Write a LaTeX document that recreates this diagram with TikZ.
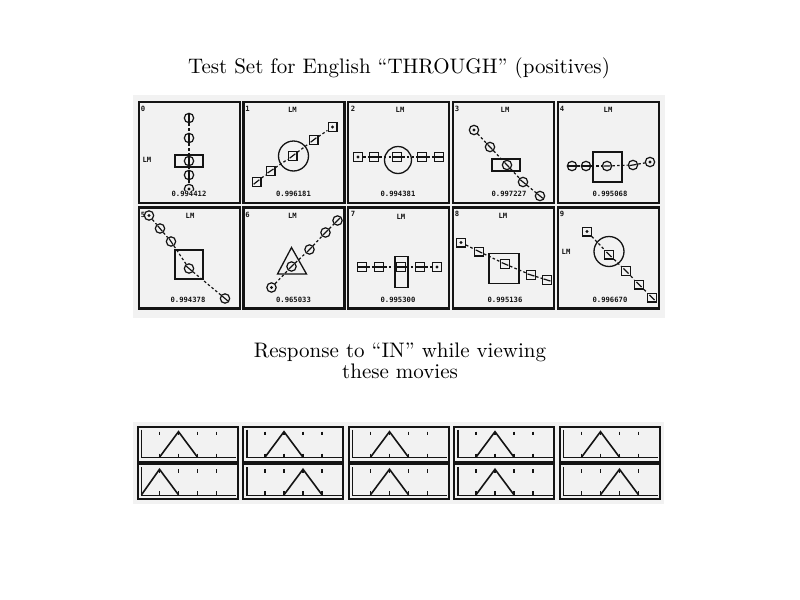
\documentclass[tikz,border=0pt]{standalone}
\usepackage{fontspec}
\newfontfamily\pixfont{DejaVu Sans Mono}
\usetikzlibrary{calc}
\definecolor{scanbg}{gray}{0.95}
\definecolor{ink}{gray}{0.08}
\tikzset{
  frame/.style={draw=ink, line width=1.2pt},
  cont/.style={draw=ink, line width=0.65pt, inner sep=0pt},
  circ/.style={circle, draw=ink, line width=0.6pt, minimum size=4.7pt, inner sep=0pt},
  sqr/.style={rectangle, draw=ink, line width=0.6pt, minimum size=4.4pt, inner sep=0pt},
  link/.style={draw=ink, line width=0.6pt, dash pattern=on 1.3pt off 1.1pt},
  mk/.style={draw=ink, line width=0.6pt},
  lbl/.style={inner sep=0pt, text=ink, font=\pixfont\bfseries\fontsize{3.6}{3.8}\selectfont},
  val/.style={inner sep=0.3pt, fill=scanbg, text=ink, font=\pixfont\bfseries\fontsize{3.6}{4}\selectfont},
  heading/.style={inner sep=0pt, font=\fontsize{10.5}{12}\selectfont},
  pframe/.style={draw=ink, line width=1pt},
  axisline/.style={draw=ink, line width=0.7pt},
  tickmark/.style={draw=ink, line width=0.8pt},
  tent/.style={draw=ink, line width=0.8pt, line join=miter}
}
\newcommand\objmark[2]{\draw[mk] ($(#1)!1.8pt!(#2)$) -- ($(#1)!-1.8pt!(#2)$);}
\newcommand\objdot[1]{\fill[ink] (#1) circle[radius=1.6];}
\newcommand\respplot[5]{%
  \begin{scope}[shift={(#1,#2)}]
    \draw[pframe] (0,0) rectangle (100,35);
    \draw[axisline] (4,3) -- (4,31) -- (98.5,31);
    \foreach \t in {22,41,60,79} {
      \draw[tickmark] (\t,5) -- (\t,8.5);
      \draw[tickmark] (\t,27) -- (\t,30.5);
    }
    \draw[tent] (#3,30.5) -- (#4,5) -- (#5,30.5);
  \end{scope}}
\begin{document}
\begin{tikzpicture}[x=0.5pt,y=-0.5pt]
\useasboundingbox (0,0) rectangle (800,600);
\fill[white] (0,0) rectangle (800,600);

\node[heading] (title) at (399,68) {Test Set for English ``THROUGH'' (positives)};
\node[heading] (resp1) at (400,352) {Response to ``IN'' while viewing};
\node[heading] (resp2) at (400,371) {these movies};

\fill[scanbg] (133,95) rectangle (665,318);
\fill[scanbg] (133,422) rectangle (664,504);

% ---------- panel 0
\begin{scope}[shift={(139,102)}]
  \draw[frame] (0,0) rectangle (101,101);
  \node[lbl] (d0) at (4,7) {0};
  \node[lbl] (lm0) at (8,58) {LM};
  \node[cont, rectangle, minimum width=14pt, minimum height=6pt] (c0) at (50,59) {};
  \node[circ] (o0a) at (50,16) {};
  \node[circ] (o0b) at (50,36) {};
  \node[circ] (o0c) at (50,59) {};
  \node[circ] (o0d) at (50,73) {};
  \node[circ] (o0e) at (50,87) {};
  \draw[link] (o0a) -- (o0b); \draw[link] (o0b) -- (o0c);
  \draw[link] (o0c) -- (o0d); \draw[link] (o0d) -- (o0e);
  \objmark{o0a}{o0b} \objmark{o0b}{o0c} \objmark{o0c}{o0d} \objmark{o0d}{o0e}
  \objdot{o0e}
  \node[val] (v0) at (50,92) {0.994412};
\end{scope}

% ---------- panel 1
\begin{scope}[shift={(243.5,102)}]
  \draw[frame] (0,0) rectangle (101,101);
  \node[lbl] (d1) at (4,7) {1};
  \node[lbl] (lm1) at (49,8) {LM};
  \node[cont, circle, minimum size=15pt] (c1) at (50,54) {};
  \node[sqr] (o1a) at (13,80) {};
  \node[sqr] (o1b) at (27,69) {};
  \node[sqr] (o1c) at (49,54) {};
  \node[sqr] (o1d) at (70,38) {};
  \node[sqr] (o1e) at (89,25) {};
  \draw[link] (o1a) -- (o1b); \draw[link] (o1b) -- (o1c);
  \draw[link] (o1c) -- (o1d); \draw[link] (o1d) -- (o1e);
  \objmark{o1a}{o1b} \objmark{o1b}{o1c} \objmark{o1c}{o1d} \objmark{o1d}{o1c}
  \objdot{o1e}
  \node[val] (v1) at (50,92) {0.996181};
\end{scope}

% ---------- panel 2
\begin{scope}[shift={(348,102)}]
  \draw[frame] (0,0) rectangle (101,101);
  \node[lbl] (d2) at (5,7) {2};
  \node[lbl] (lm2) at (52,8) {LM};
  \node[cont, circle, minimum size=13.5pt] (c2) at (50,58) {};
  \node[sqr] (o2a) at (10,55) {};
  \node[sqr] (o2b) at (26,55) {};
  \node[sqr] (o2c) at (49,55) {};
  \node[sqr] (o2d) at (74,55) {};
  \node[sqr] (o2e) at (91,55) {};
  \draw[link] (o2a) -- (o2b); \draw[link] (o2b) -- (o2c);
  \draw[link] (o2c) -- (o2d); \draw[link] (o2d) -- (o2e);
  \objmark{o2b}{o2c} \objmark{o2c}{o2d} \objmark{o2d}{o2e} \objmark{o2e}{o2d}
  \objdot{o2a}
  \node[val] (v2) at (50,92) {0.994381};
\end{scope}

% ---------- panel 3
\begin{scope}[shift={(453,102)}]
  \draw[frame] (0,0) rectangle (101,101);
  \node[lbl] (d3) at (4,7) {3};
  \node[lbl] (lm3) at (52,8) {LM};
  \node[cont, rectangle, minimum width=14pt, minimum height=6pt] (c3) at (53,63) {};
  \node[circ] (o3a) at (21,28) {};
  \node[circ] (o3b) at (37,45) {};
  \node[circ] (o3c) at (54,63) {};
  \node[circ] (o3d) at (70,80) {};
  \node[circ] (o3e) at (87,94) {};
  \draw[link] (o3a) -- (o3b); \draw[link] (o3b) -- (o3c);
  \draw[link] (o3c) -- (o3d); \draw[link] (o3d) -- (o3e);
  \objmark{o3b}{o3c} \objmark{o3c}{o3d} \objmark{o3d}{o3e} \objmark{o3e}{o3d}
  \objdot{o3a}
  \node[val] (v3) at (56,92) {0.997227};
\end{scope}

% ---------- panel 4
\begin{scope}[shift={(558,102)}]
  \draw[frame] (0,0) rectangle (101,101);
  \node[lbl] (d4) at (4,7) {4};
  \node[lbl] (lm4) at (50,8) {LM};
  \node[cont, rectangle, minimum width=14.5pt, minimum height=15pt] (c4) at (49.5,65) {};
  \node[circ] (o4a) at (14,64) {};
  \node[circ] (o4b) at (28,64) {};
  \node[circ] (o4c) at (49,64) {};
  \node[circ] (o4d) at (75,63) {};
  \node[circ] (o4e) at (92,60) {};
  \draw[link] (o4a) -- (o4b); \draw[link] (o4b) -- (o4c);
  \draw[link] (o4c) -- (o4d); \draw[link] (o4d) -- (o4e);
  \objmark{o4a}{o4b} \objmark{o4b}{o4c} \objmark{o4c}{o4d} \objmark{o4d}{o4e}
  \objdot{o4e}
  \node[val] (v4) at (52,92) {0.995068};
\end{scope}

% ---------- panel 5
\begin{scope}[shift={(139,207.5)}]
  \draw[frame] (0,0) rectangle (101,101);
  \node[lbl] (d5) at (4,7) {5};
  \node[lbl] (lm5) at (51,8) {LM};
  \node[cont, rectangle, minimum width=14pt, minimum height=14.5pt] (c5) at (50,57) {};
  \node[circ] (o5a) at (10,8) {};
  \node[circ] (o5b) at (21,21) {};
  \node[circ] (o5c) at (32,34) {};
  \node[circ] (o5d) at (50,61) {};
  \node[circ] (o5e) at (86,91) {};
  \draw[link] (o5a) -- (o5b); \draw[link] (o5b) -- (o5c);
  \draw[link] (o5c) -- (o5d); \draw[link] (o5d) -- (o5e);
  \objmark{o5b}{o5c} \objmark{o5c}{o5d} \objmark{o5d}{o5e} \objmark{o5e}{o5d}
  \objdot{o5a}
  \node[val] (v5) at (49,92) {0.994378};
\end{scope}

% ---------- panel 6
\begin{scope}[shift={(243.5,207.5)}]
  \draw[frame] (0,0) rectangle (101,101);
  \node[lbl] (d6) at (4,7) {6};
  \node[lbl] (lm6) at (49,8) {LM};
  \draw[cont] (48,40) -- (34,66.5) -- (63,66.5) -- cycle;
  \node[circ] (o6a) at (28,80) {};
  \node[circ] (o6b) at (48,59) {};
  \node[circ] (o6c) at (66,42) {};
  \node[circ] (o6d) at (82,25) {};
  \node[circ] (o6e) at (94,13) {};
  \draw[link] (o6a) -- (o6b); \draw[link] (o6b) -- (o6c);
  \draw[link] (o6c) -- (o6d); \draw[link] (o6d) -- (o6e);
  \objmark{o6b}{o6c} \objmark{o6c}{o6d} \objmark{o6d}{o6e} \objmark{o6e}{o6d}
  \objdot{o6a}
  \node[val] (v6) at (50,92) {0.965033};
\end{scope}

% ---------- panel 7
\begin{scope}[shift={(348,207.5)}]
  \draw[frame] (0,0) rectangle (101,101);
  \node[lbl] (d7) at (5,6) {7};
  \node[lbl] (lm7) at (53,9.5) {LM};
  \node[cont, rectangle, minimum width=6.5pt, minimum height=15.5pt] (c7) at (53.5,64.5) {};
  \node[sqr] (o7a) at (14,59.5) {};
  \node[sqr] (o7b) at (31,59.5) {};
  \node[sqr] (o7c) at (53,59.5) {};
  \node[sqr] (o7d) at (72,59.5) {};
  \node[sqr] (o7e) at (89,59.5) {};
  \draw[link] (o7a) -- (o7b); \draw[link] (o7b) -- (o7c);
  \draw[link] (o7c) -- (o7d); \draw[link] (o7d) -- (o7e);
  \objmark{o7a}{o7b} \objmark{o7b}{o7c} \objmark{o7c}{o7d} \objmark{o7d}{o7e}
  \objdot{o7e}
  \node[val] (v7) at (50,92) {0.995300};
\end{scope}

% ---------- panel 8
\begin{scope}[shift={(453,207.5)}]
  \draw[frame] (0,0) rectangle (101,101);
  \node[lbl] (d8) at (4,6.5) {8};
  \node[lbl] (lm8) at (50,8) {LM};
  \node[cont, rectangle, minimum size=15pt] (c8) at (51,61) {};
  \node[sqr] (o8a) at (8,35) {};
  \node[sqr] (o8b) at (26,44) {};
  \node[sqr] (o8c) at (52,56.5) {};
  \node[sqr] (o8d) at (78,67.5) {};
  \node[sqr] (o8e) at (94,72.5) {};
  \draw[link] (o8a) -- (o8b); \draw[link] (o8b) -- (o8c);
  \draw[link] (o8c) -- (o8d); \draw[link] (o8d) -- (o8e);
  \objmark{o8b}{o8c} \objmark{o8c}{o8d} \objmark{o8d}{o8e} \objmark{o8e}{o8d}
  \objdot{o8a}
  \node[val] (v8) at (52,92) {0.995136};
\end{scope}

% ---------- panel 9
\begin{scope}[shift={(558,207.5)}]
  \draw[frame] (0,0) rectangle (101,101);
  \node[lbl] (d9) at (4,6.5) {9};
  \node[lbl] (lm9) at (8,44) {LM};
  \node[cont, circle, minimum size=15pt] (c9) at (51,44) {};
  \node[sqr] (o9a) at (29,24) {};
  \node[sqr] (o9b) at (51,47) {};
  \node[sqr] (o9c) at (68,63.5) {};
  \node[sqr] (o9d) at (81,77) {};
  \node[sqr] (o9e) at (94,90) {};
  \draw[link] (o9a) -- (o9b); \draw[link] (o9b) -- (o9c);
  \draw[link] (o9c) -- (o9d); \draw[link] (o9d) -- (o9e);
  \objmark{o9b}{o9c} \objmark{o9c}{o9d} \objmark{o9d}{o9e} \objmark{o9e}{o9d}
  \objdot{o9a}
  \node[val] (v9) at (52,92) {0.996670};
\end{scope}

% ---------- response plots
\respplot{137.5}{426.7}{22}{41}{60}
\respplot{243}{426.7}{22}{41}{60}
\respplot{348.5}{426.7}{22}{41}{60}
\respplot{454}{426.7}{22}{41}{60}
\respplot{559.5}{426.7}{22}{41}{60}
\respplot{137.5}{464.3}{4}{22}{41}
\respplot{243}{464.3}{41}{60}{79}
\respplot{348.5}{464.3}{22}{41}{60}
\respplot{454}{464.3}{22}{41}{60}
\respplot{559.5}{464.3}{41}{60}{79}
\end{tikzpicture}
\end{document}
